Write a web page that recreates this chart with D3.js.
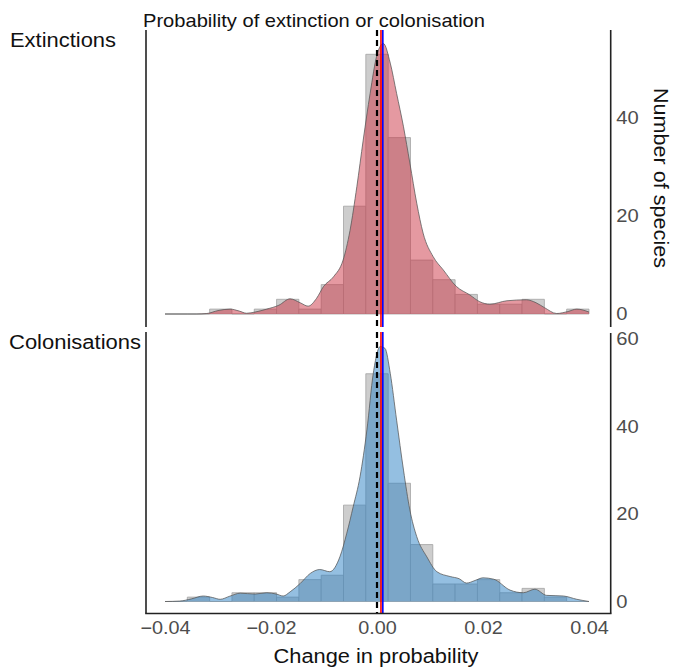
<!DOCTYPE html>
<html><head><meta charset="utf-8">
<script src="https://cdn.jsdelivr.net/npm/d3@7"></script>
<style>
html,body{margin:0;padding:0;background:#fff;}
text{font-family:"Liberation Sans",Arial,Helvetica,sans-serif;}
</style></head>
<body>
<svg id="chart" width="673" height="667"></svg>
<script>
// ---- data ----
const binEdges = [-0.04, -0.03579, -0.03158, -0.02737, -0.02316, -0.01895, -0.01474, -0.01053, -0.00632, -0.00211,
  0.00211, 0.00632, 0.01053, 0.01474, 0.01895, 0.02316, 0.02737, 0.03158, 0.03579, 0.04];
const extinctionCounts   = [0,0,1,0,1,3,1,6,22,53,36,11,7,4,2,2,3,0,1];
const colonisationCounts = [0,1,0,2,2,1,5,6,22,52,27,13,4,4,5,2,3,1,0];

const extDensX = [-0.04,-0.034,-0.0321,-0.03,-0.0277,-0.026,-0.0246,-0.023,-0.0208,-0.0185,-0.0164,-0.0145,-0.013,-0.0114,-0.0101,-0.0082,-0.0064,-0.0051,-0.0038,-0.0026,-0.0013,0,0.0012,0.0025,0.0037,0.005,0.0062,0.0075,0.0087,0.0106,0.0125,0.015,0.0175,0.0194,0.0213,0.0245,0.0282,0.03,0.0316,0.0339,0.036,0.0377,0.04];
const extDensY = [0,0,0.1,0.7,1.0,0.6,0.15,0.4,1.0,1.8,3.1,2.3,1.6,3.2,5.6,7.6,11,17,26,35.5,45,52.9,55.2,51.2,45,38.2,30.8,22.6,16.5,11.7,9,5.6,3.9,2.5,2.0,2.7,2.9,2.3,1.3,0.1,0.5,1.0,0.4];

const colDensX = [-0.04,-0.0372,-0.035,-0.0328,-0.031,-0.0296,-0.0278,-0.0258,-0.023,-0.0208,-0.019,-0.0177,-0.0164,-0.0145,-0.0126,-0.0108,-0.0089,-0.007,-0.0057,-0.0045,-0.0032,-0.0019,-0.0007,0.0006,0.0015,0.0025,0.0037,0.005,0.0062,0.0075,0.0094,0.0113,0.0138,0.0155,0.0169,0.0185,0.02,0.022,0.0251,0.0276,0.0298,0.032,0.0352,0.0377,0.04];
const colDensY = [0,0.1,0.6,1.25,0.9,0.5,1.2,1.9,1.7,2.0,1.7,1.25,2.2,4.1,6.4,7.3,6.8,10.2,15.6,21.6,28.5,39.2,52.1,58.2,57.8,52.1,41.4,30,20.9,14.8,10.2,6.8,5.7,5.2,4.2,4.8,5.4,5.1,2.6,2.0,2.8,1.4,1.25,0.5,0];

const xTicks = [-0.04, -0.02, 0.00, 0.02, 0.04];
const extYTicks = [0, 20, 40];
const colYTicks = [0, 20, 40, 60];
const refLines = [ {x:0, color:"#000000", dash:"6,4"}, {x:0.00075, color:"#ff0000", dash:null}, {x:0.0011, color:"#0000ff", dash:null} ];

const titleText = "Probability of extinction or colonisation";
const panelLabels = ["Extinctions", "Colonisations"];
const xLabel = "Change in probability";
const yLabel = "Number of species";

// ---- drawing ----
const svg = d3.select("#chart");
const x = d3.scaleLinear().domain([-0.04, 0.04]).range([165, 589]);

const panels = [
  {label: panelLabels[0], counts: extinctionCounts, dx: extDensX, dy: extDensY, ticks: extYTicks,
   y: d3.scaleLinear().domain([0, 40]).range([314, 118]), top: 30, bottom: 327,
   fill: "#cc3344", labelY: 46.7, labelW: 106},
  {label: panelLabels[1], counts: colonisationCounts, dx: colDensX, dy: colDensY, ticks: colYTicks,
   y: d3.scaleLinear().domain([0, 60]).range([601.5, 338.7]), top: 332, bottom: 613.5,
   fill: "#2a80c4", labelY: 349.3, labelW: 132}
];

const left = 146, right = 610.7;

panels.forEach((p, pi) => {
  const g = svg.append("g");
  // histogram
  g.selectAll("path.bar").data(p.counts).join("path")
    .attr("class","bar")
    .attr("d", (c, i) => {
      const x0 = x(binEdges[i]), x1 = x(binEdges[i+1]), y0 = p.y(0), y1 = p.y(c);
      return `M${x0},${y0}V${y1}H${x1}V${y0}Z`;
    })
    .attr("fill", "#cdcdcd").attr("stroke", "#a3a3a3").attr("stroke-width", 0.8);

  const pts = p.dx.map((v, i) => [v, p.dy[i]]);
  const area = d3.area().x(d => x(d[0])).y0(p.y(0)).y1(d => p.y(d[1])).curve(d3.curveMonotoneX);
  const line = d3.line().x(d => x(d[0])).y(d => p.y(d[1])).curve(d3.curveMonotoneX);
  g.append("path").attr("d", area(pts)).attr("fill", p.fill).attr("fill-opacity", 0.5);
  g.append("path").attr("d", line(pts)).attr("fill", "none").attr("stroke", "#555").attr("stroke-width", 0.75);

  // reference lines
  refLines.forEach(r => {
    g.append("line").attr("x1", x(r.x)).attr("x2", x(r.x)).attr("y1", p.top).attr("y2", p.bottom)
      .attr("stroke", r.color).attr("stroke-width", r.dash ? 2.2 : 1.6)
      .attr("stroke-dasharray", r.dash);
  });

  // panel lines
  g.append("line").attr("x1", left).attr("x2", left).attr("y1", p.top).attr("y2", p.bottom)
    .attr("stroke", "#222").attr("stroke-width", 1.6);
  g.append("line").attr("x1", right).attr("x2", right).attr("y1", pi === 0 ? 30 : 333).attr("y2", p.bottom)
    .attr("stroke", "#222").attr("stroke-width", 1.6);

  // right axis ticks
  const ax = g.append("g").attr("transform", `translate(${right},0)`)
    .call(d3.axisRight(p.y).tickValues(p.ticks).tickSize(0).tickPadding(5.5).tickFormat(d3.format("d")));
  ax.select(".domain").remove();
  ax.selectAll("text").attr("font-size", 18).attr("fill", "#4d4d4d")
    .style("font-family", '"Liberation Sans", Arial, sans-serif')
    .each(function(){ const l = this.getComputedTextLength(); d3.select(this).attr("textLength", l*1.12).attr("lengthAdjust","spacingAndGlyphs"); });

  // panel label
  svg.append("text").attr("x", pi === 0 ? 10 : 9).attr("y", p.labelY).attr("font-size", 20).attr("fill", "#111")
    .attr("textLength", p.labelW).attr("lengthAdjust", "spacingAndGlyphs").text(p.label);
});

// bottom axis line
svg.append("line").attr("x1", left - 0.8).attr("x2", right + 0.8).attr("y1", 613.5).attr("y2", 613.5)
  .attr("stroke", "#222").attr("stroke-width", 1.6);

const xa = svg.append("g").attr("transform", "translate(0,613.5)")
  .call(d3.axisBottom(x).tickValues(xTicks).tickSize(0).tickPadding(7.5).tickFormat(d3.format(".2f")));
xa.select(".domain").remove();
xa.selectAll("text").attr("font-size", 18).attr("fill", "#4d4d4d")
  .style("font-family", '"Liberation Sans", Arial, sans-serif')
  .each(function(){ const l = this.getComputedTextLength(); d3.select(this).attr("textLength", l*1.1).attr("lengthAdjust","spacingAndGlyphs"); });

// titles
svg.append("text").attr("x", 143).attr("y", 26.7).attr("font-size", 19).attr("fill", "#111")
  .attr("textLength", 342).attr("lengthAdjust", "spacingAndGlyphs").text(titleText);
svg.append("text").attr("x", 376).attr("y", 663).attr("text-anchor", "middle").attr("font-size", 20).attr("fill", "#111")
  .attr("textLength", 205).attr("lengthAdjust", "spacingAndGlyphs").text(xLabel);
svg.append("text").attr("transform", "translate(653.5,178) rotate(90)").attr("text-anchor", "middle")
  .attr("font-size", 20.5).attr("fill", "#111")
  .attr("textLength", 180).attr("lengthAdjust", "spacingAndGlyphs").text(yLabel);
</script>
</body></html>
